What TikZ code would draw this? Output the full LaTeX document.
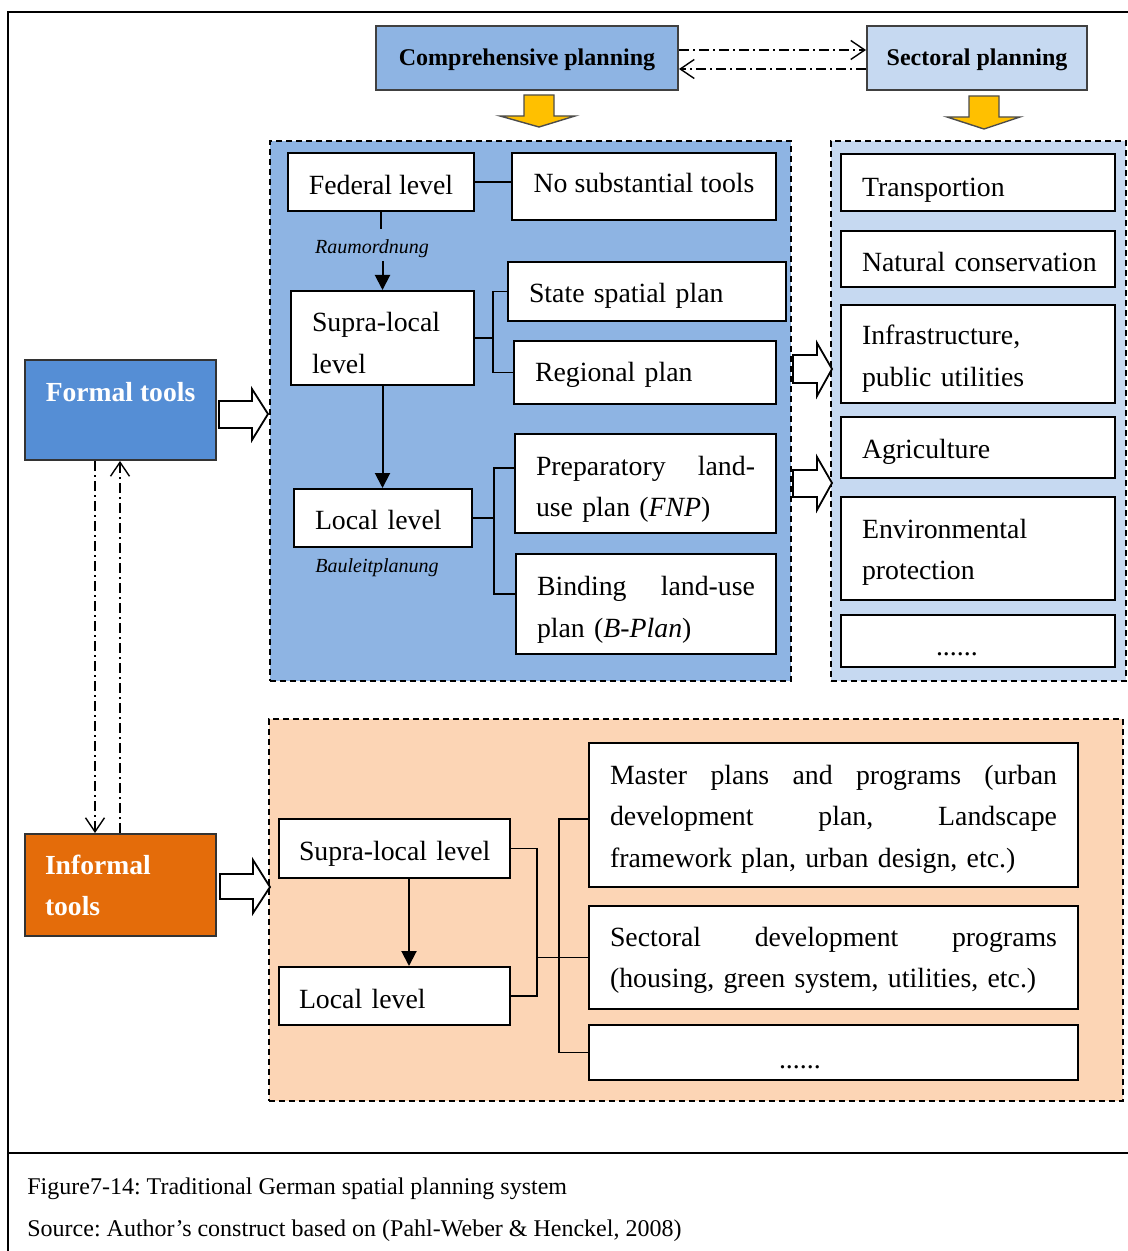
\documentclass[tikz,border=0pt]{standalone}
\usepackage{fontspec}
\setmainfont{Liberation Serif}
\usetikzlibrary{arrows.meta}
\definecolor{compblue}{HTML}{8EB4E3}
\definecolor{sectblue}{HTML}{C6D9F1}
\definecolor{formalblue}{HTML}{558ED5}
\definecolor{informalorange}{HTML}{E46C0A}
\definecolor{peach}{HTML}{FCD5B5}
\definecolor{gold}{HTML}{FFC000}
\newcommand\bodysize{\fontsize{13.9}{20.75}\selectfont}
\newcommand\capsize{\fontsize{12}{21}\selectfont}
\newcommand\headfont{\fontsize{12}{14}\selectfont\bfseries}
\newcommand\toolfont{\fontsize{13.8}{20.5}\selectfont\bfseries}
\newcommand\notefont{\fontsize{10}{12}\selectfont\itshape}
% invisible strut that sets the height of a box's first line
\newcommand\lf[1]{\rule{0pt}{#1}}
% a row of dots, indented and lowered to sit on the baseline
\newcommand\dotsline[2]{\hspace*{#2}\raisebox{#1}[0pt][0pt]{......}}
\frenchspacing

\begin{document}
\begin{tikzpicture}[x=0.5pt,y=-0.5pt,
  every node/.style={font=\bodysize},
  pbox/.style={draw=black, fill=white, line width=1pt, anchor=north west, inner sep=0pt, align=left},
  sbox/.style={pbox, minimum width=137pt, text width=116pt},
  regionbox/.style={draw=black, line width=0.8pt, dash pattern=on 3pt off 2pt, anchor=north west, inner sep=0pt},
  link/.style={line width=1pt},
  thinlink/.style={line width=0.8pt},
  downarrow/.style={line width=1pt, -{Triangle[length=7.5pt,width=7.5pt]}},
  ddarrow/.style={line width=0.7pt, dash pattern=on 5pt off 2pt on 1pt off 2pt, -{Straight Barb[length=7pt,width=9.5pt]}},
  hollowarrow/.style={draw=black, fill=white, line width=0.9pt, line join=miter},
  goldarrow/.style={draw=black!70, fill=gold, line width=0.7pt, line join=miter},
]
\useasboundingbox (0,0) rectangle (1128,1251);

% frame of the figure and the caption rule
\draw[line width=1pt] (8,1251) -- (8,12) -- (1128,12);
\draw[line width=1.2pt] (8,1153) -- (1128,1153);

% dashed groups
\node[regionbox, fill=compblue, minimum width=260.5pt, minimum height=270pt] (breg) at (269,140) {};
\node[regionbox, fill=sectblue, minimum width=147.5pt, minimum height=270pt] (lreg) at (830,140) {};
\node[regionbox, fill=peach, minimum width=427pt, minimum height=191pt] (oreg) at (268,718) {};

% planning headers
\node[pbox, fill=compblue, draw=black!75, align=center, minimum width=151pt, minimum height=32pt, font=\headfont] (comp) at (375,25) {\lf{10.3pt}Comprehensive planning};
\node[pbox, fill=sectblue, draw=black!75, align=center, minimum width=110pt, minimum height=32pt, font=\headfont] (sect) at (866,25) {\lf{10.3pt}Sectoral planning};

% tool types
\node[pbox, fill=formalblue, draw=black!80, align=center, text=white, font=\toolfont, minimum width=95.5pt, minimum height=50pt] (formal) at (24,359) {\lf{18.5pt}Formal tools\\\strut};
\node[pbox, fill=informalorange, draw=black!80, text=white, font=\toolfont, minimum width=95.5pt, minimum height=51pt, text width=75.5pt] (informal) at (24,833) {Informal\\tools};

% formal levels
\node[pbox, align=center, minimum width=93pt, minimum height=29pt] (fed) at (287,152) {\lf{12.6pt}Federal level};
\node[pbox, align=center, minimum width=132pt, minimum height=33.5pt] (nst) at (511,152) {\rule[-4pt]{0pt}{4pt}No substantial tools};
\node[pbox, minimum width=91.5pt, minimum height=47pt, text width=70.5pt] (supra) at (290,290) {\lf{14.6pt}Supra-local\\level};
\node[pbox, minimum width=139pt, minimum height=29.5pt, text width=118pt] (state) at (507,261) {\lf{13.6pt}State spatial plan};
\node[pbox, minimum width=131pt, minimum height=31.5pt, text width=110pt] (regional) at (513,340) {\lf{11.6pt}Regional plan};
\node[pbox, minimum width=89pt, minimum height=29pt, text width=68pt] (local) at (293,488) {\lf{11.6pt}Local level};
\node[pbox, minimum width=130.5pt, minimum height=49.5pt, text width=109.5pt] (prep) at (514,433) {\lf{15.6pt}Preparatory\hfill land-\\use plan (\textit{FNP})};
\node[pbox, minimum width=130pt, minimum height=50pt, text width=109pt] (bind) at (515,553) {\lf{15.6pt}Binding\hfill land-use\\plan (\textit{B-Plan})};
\node[inner sep=0pt, font=\notefont] (raum) at (372,249) {Raumordnung};
\node[inner sep=0pt, font=\notefont] (bauleit) at (377,568) {Bauleitplanung};

% sectoral fields
\node[sbox, minimum height=28.5pt] (transp) at (840,153) {\lf{16.6pt}Transportion};
\node[sbox, minimum height=28pt] (nat) at (840,230) {\lf{12.6pt}\mbox{Natural conservation}};
\node[sbox, minimum height=49pt] (infra) at (840,304) {\lf{14.6pt}Infrastructure,\\public utilities};
\node[sbox, minimum height=30.5pt] (agri) at (840,416) {\lf{13.6pt}Agriculture};
\node[sbox, minimum height=51.5pt] (env) at (840,496) {\lf{13.6pt}Environmental\\protection};
\node[sbox, minimum height=26pt] (sdots) at (840,614) {\dotsline{-7pt}{37pt}};

% informal levels
\node[pbox, minimum width=115.5pt, minimum height=29.5pt, text width=95.5pt] (isupra) at (278,818) {\lf{14.6pt}\mbox{Supra-local level}};
\node[pbox, minimum width=115.5pt, minimum height=29pt, text width=95.5pt] (ilocal) at (278,966) {\lf{12.6pt}Local level};
\node[pbox, minimum width=244.5pt, minimum height=72pt, text width=223.5pt] (master) at (588,742) {\lf{13.6pt}Master\hfill plans\hfill and\hfill programs\hfill (urban\\development\hfill plan,\hfill Landscape\\framework plan, urban design, etc.)};
\node[pbox, minimum width=244.5pt, minimum height=51.5pt, text width=223.5pt] (secdev) at (588,905) {\lf{12.6pt}Sectoral\hfill development\hfill programs\\(housing, green system, utilities, etc.)};
\node[pbox, minimum width=244.5pt, minimum height=27.5pt, text width=223.5pt] (idots) at (588,1024) {\dotsline{-8pt}{84.5pt}};

% header exchange
\draw[ddarrow] (comp.east |- 0,50) -- (sect.west |- 0,50);
\draw[ddarrow] (sect.west |- 0,69) -- (comp.east |- 0,69);

% formal <-> informal
\draw[ddarrow] (formal.south -| 95,0) -- (informal.north -| 95,0);
\draw[ddarrow] (informal.north -| 120,0) -- (formal.south -| 120,0);

% formal hierarchy
\draw[link] (fed.east) -- (fed.east -| nst.west);
\draw[link] (fed.south) -- (fed.south |- 0,229);
\draw[downarrow] (supra.north |- 0,261) -- (supra.north);
\draw[downarrow] (supra.south) -- (supra.south |- local.north);
\coordinate (sb) at (493,0);
\draw[thinlink] (supra.east) -- (supra.east -| sb);
\draw[thinlink] (state.west) -| (sb |- regional.west) -- (regional.west);
\coordinate (lb) at (494,0);
\draw[thinlink] (local.east) -- (local.east -| lb);
\draw[thinlink] (prep.west |- 0,468) -| (lb |- 0,594) -- (bind.west |- 0,594);

% informal hierarchy
\draw[downarrow] (isupra.south -| 409,0) -- (ilocal.north -| 409,0);
\coordinate (ib) at (537,0);
\coordinate (ic) at (559,0);
\draw[thinlink] (isupra.east) -| (ib |- ilocal.east) -- (ilocal.east);
\draw[thinlink] (ib |- secdev.west) -- (secdev.west);
\draw[thinlink] (master.west |- 0,819) -| (ic |- idots.west) -- (idots.west);

% block arrows
\draw[goldarrow] (524,95) -- (554,95) -- (554,116) -- (575,116) -- (539,127) -- (500,116) -- (524,116) -- cycle;
\draw[goldarrow] (969,96) -- (999,96) -- (999,117) -- (1020,117) -- (984,129) -- (947,117) -- (969,117) -- cycle;
\draw[hollowarrow] (219,401) -- (252,401) -- (252,389) -- (268,414) -- (252,440) -- (252,428) -- (219,428) -- cycle;
\draw[hollowarrow] (793,355) -- (817,355) -- (817,343) -- (832,369) -- (817,396) -- (817,383) -- (793,383) -- cycle;
\draw[hollowarrow] (793,470) -- (817,470) -- (817,457) -- (832,483) -- (817,510) -- (817,497) -- (793,497) -- cycle;
\draw[hollowarrow] (220,874) -- (253,874) -- (253,860) -- (270,887) -- (253,913) -- (253,899) -- (220,899) -- cycle;

% caption
\node[anchor=west, inner sep=0pt, font=\capsize] (cap1) at (27,1189) {Figure7-14: Traditional German spatial planning system};
\node[anchor=west, inner sep=0pt, font=\capsize] (cap2) at (27,1231) {Source: Author’s construct based on (Pahl-Weber \& Henckel, 2008)};
\end{tikzpicture}
\end{document}
